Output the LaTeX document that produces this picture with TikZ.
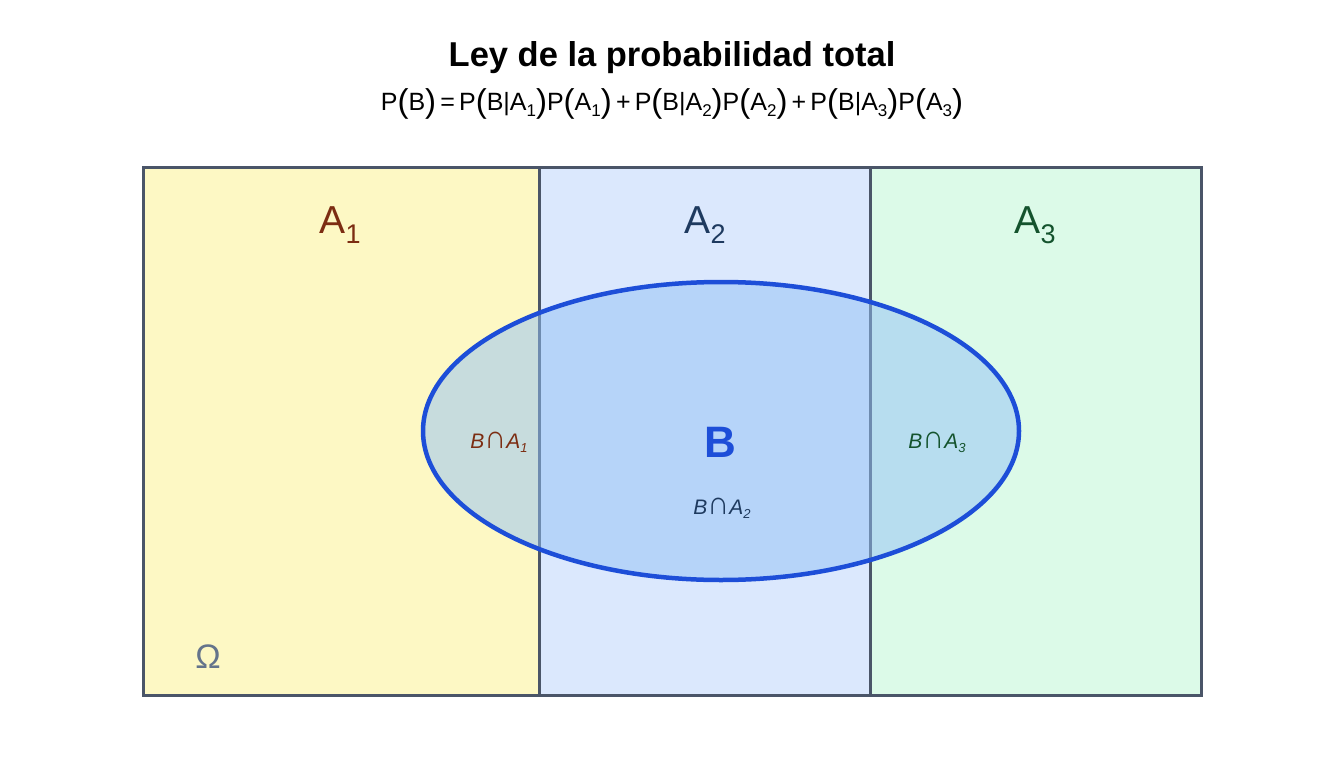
\documentclass[tikz,border=0pt]{standalone}
\usepackage{fontspec}
\setmainfont{Liberation Sans}
\definecolor{frame}{RGB}{74,85,104}
\definecolor{fillA}{RGB}{253,248,196}
\definecolor{fillB}{RGB}{219,232,253}
\definecolor{fillC}{RGB}{220,250,232}
\definecolor{ellfill}{RGB}{147,194,247}
\definecolor{elldraw}{RGB}{29,78,216}
\definecolor{txtA}{RGB}{124,45,18}
\definecolor{txtB}{RGB}{30,58,95}
\definecolor{txtC}{RGB}{20,83,45}
\definecolor{omegac}{RGB}{100,116,139}
\newcommand{\sbx}[1]{\raisebox{-0.22em}{\fontsize{17}{17}\selectfont #1}}
\newcommand{\lp}{{\fontsize{33}{33}\selectfont\raisebox{-0.06em}{(}}}
\newcommand{\rp}{{\fontsize{33}{33}\selectfont\raisebox{-0.06em}{)}}}
\newcommand{\isub}[1]{\raisebox{-0.2em}{\fontsize{13}{13}\selectfont #1}}
\newcommand{\capsym}{\scalebox{1.45}[1.55]{\upshape ∩}}
\tikzset{
  x=1pt,y=-1pt,
  setlabel/.style={font=\fontsize{39}{40}\selectfont, inner sep=0pt},
  interlabel/.style={font=\fontsize{21}{24}\selectfont\itshape, inner sep=0pt},
  divider/.style={draw=frame, line width=3pt},
}
\begin{document}
\begin{tikzpicture}
\useasboundingbox (0,0) rectangle (1344,768);
% columns
\fill[fillA] (143,167) rectangle (539,695);
\fill[fillB] (539,167) rectangle (870,695);
\fill[fillC] (870,167) rectangle (1201,695);
\draw[divider] (539,167) -- (539,695);
\draw[divider] (870,167) -- (870,695);
\draw[divider] (143,167) rectangle (1201,695);
% event B
\fill[ellfill, fill opacity=0.5] (721,431) ellipse [x radius=298, y radius=149];
\draw[elldraw, line width=4.5pt] (721,431) ellipse [x radius=298, y radius=149];
% title
\node[font=\fontsize{34.5}{38}\selectfont\bfseries, inner sep=0pt] (title) at (672,58) {Ley de la probabilidad total};
\node[font=\fontsize{25}{28}\selectfont, inner sep=0pt] (formula) at (672,104)
 {P\lp B\rp\,=\,P\lp B|A\sbx{1}\rp P\lp A\sbx{1}\rp\,+\,P\lp B|A\sbx{2}\rp P\lp A\sbx{2}\rp\,+\,P\lp B|A\sbx{3}\rp P\lp A\sbx{3}\rp};
% set labels
\node[setlabel, text=txtA] (a1) at (340,225) {A\raisebox{-0.25em}{\fontsize{27}{27}\selectfont 1}};
\node[setlabel, text=txtB] (a2) at (705,225) {A\raisebox{-0.25em}{\fontsize{27}{27}\selectfont 2}};
\node[setlabel, text=txtC] (a3) at (1035,225) {A\raisebox{-0.25em}{\fontsize{27}{27}\selectfont 3}};
% B label
\node[font=\fontsize{44}{46}\selectfont\bfseries, text=elldraw, inner sep=0pt] (b) at (720,442) {B};
% intersections
\node[interlabel, text=txtA] (ba1) at (499,442) {B\capsym A\isub{1}};
\node[interlabel, text=txtB] (ba2) at (722,508) {B\capsym A\isub{2}};
\node[interlabel, text=txtC] (ba3) at (937,442) {B\capsym A\isub{3}};
% omega
\node[font=\fontsize{34}{36}\selectfont, text=omegac, inner sep=0pt] (omega) at (208,657) {Ω};
\end{tikzpicture}
\end{document}
